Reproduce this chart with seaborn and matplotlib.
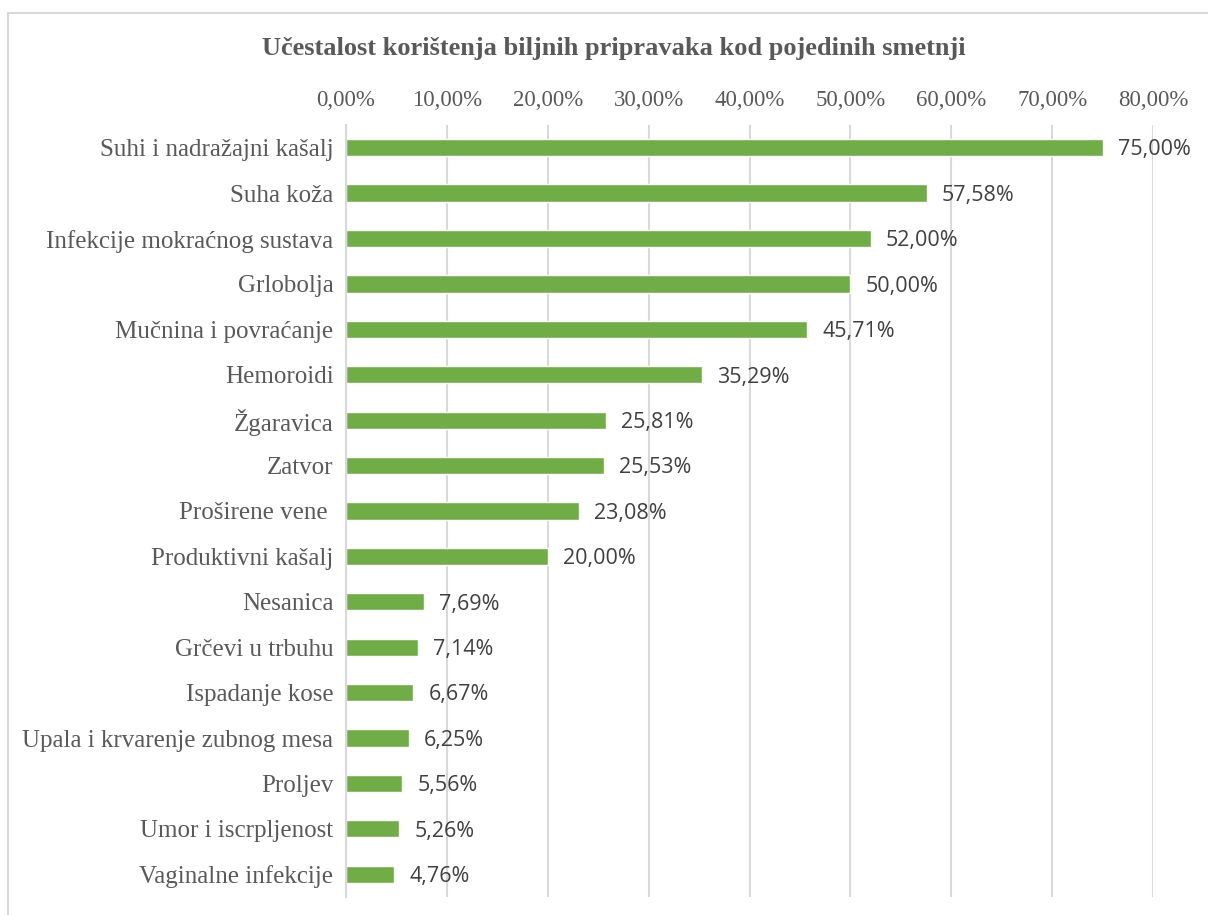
import matplotlib
matplotlib.use('Agg')
import matplotlib.pyplot as plt
from matplotlib.patches import Rectangle
from matplotlib.ticker import FuncFormatter
import pandas as pd
import seaborn as sns

# Podaci
smetnje = ['Suhi i nadražajni kašalj', 'Suha koža', 'Infekcije mokraćnog sustava',
           'Grlobolja', 'Mučnina i povraćanje', 'Hemoroidi', 'Žgaravica', 'Zatvor',
           'Proširene vene ', 'Produktivni kašalj', 'Nesanica', 'Grčevi u trbuhu',
           'Ispadanje kose', 'Upala i krvarenje zubnog mesa', 'Proljev',
           'Umor i iscrpljenost', 'Vaginalne infekcije']
postotak = [75.00, 57.58, 52.00, 50.00, 45.71, 35.29, 25.81, 25.53, 23.08, 20.00,
            7.69, 7.14, 6.67, 6.25, 5.56, 5.26, 4.76]
x_ticks = [0, 10, 20, 30, 40, 50, 60, 70, 80]

df = pd.DataFrame({'smetnja': smetnje, 'postotak': postotak})

sns.set_style('white')
serif = ['Liberation Serif', 'DejaVu Serif']
label_font = ['Open Sans', 'DejaVu Sans']
grey = '#595959'

fig = plt.figure(figsize=(12.08, 9.15), dpi=100)
ax = fig.add_axes([0.2864, 0.0197, 0.9545 - 0.2864, 0.8634 - 0.0197])

sns.barplot(data=df, x='postotak', y='smetnja', color='#70AD47', saturation=1,
            width=0.38, orient='h', ax=ax)

ax.set_xlim(0, 80)
ax.set_xticks(x_ticks)
ax.xaxis.set_major_formatter(FuncFormatter(lambda v, p: f'{v:.2f}%'.replace('.', ',')))
ax.xaxis.tick_top()
ax.tick_params(axis='x', length=0, pad=10, labelsize=16.5, labelcolor=grey)
ax.tick_params(axis='y', length=0, pad=9, labelsize=18, labelcolor=grey)
for lbl in ax.get_xticklabels() + ax.get_yticklabels():
    lbl.set_family(serif)
ax.grid(axis='x', color='#d9d9d9', linewidth=1.5)
ax.set_axisbelow(True)
for s in ['top', 'right', 'bottom']:
    ax.spines[s].set_visible(False)
ax.spines['left'].set_color('#d9d9d9')
ax.spines['left'].set_linewidth(1.5)
ax.set_xlabel('')
ax.set_ylabel('')

# Oznake vrijednosti
for i, v in enumerate(postotak):
    ax.text(v + 1.5, i + 0.05, f'{v:.2f}%'.replace('.', ','), va='center', ha='left',
            fontsize=15.5, color='#404040', family=label_font)

fig.text(0.508, 0.947, 'Učestalost korištenja biljnih pripravaka kod pojedinih smetnji',
         ha='center', va='center', fontsize=19, fontweight='bold', color=grey,
         family=serif)

# Okvir grafikona
fig.patches.append(Rectangle((0.0066, -0.02), 1.0, 1.006, transform=fig.transFigure,
                             fill=False, edgecolor='#d9d9d9', linewidth=1.5))

fig.savefig('out.png', dpi=100)
